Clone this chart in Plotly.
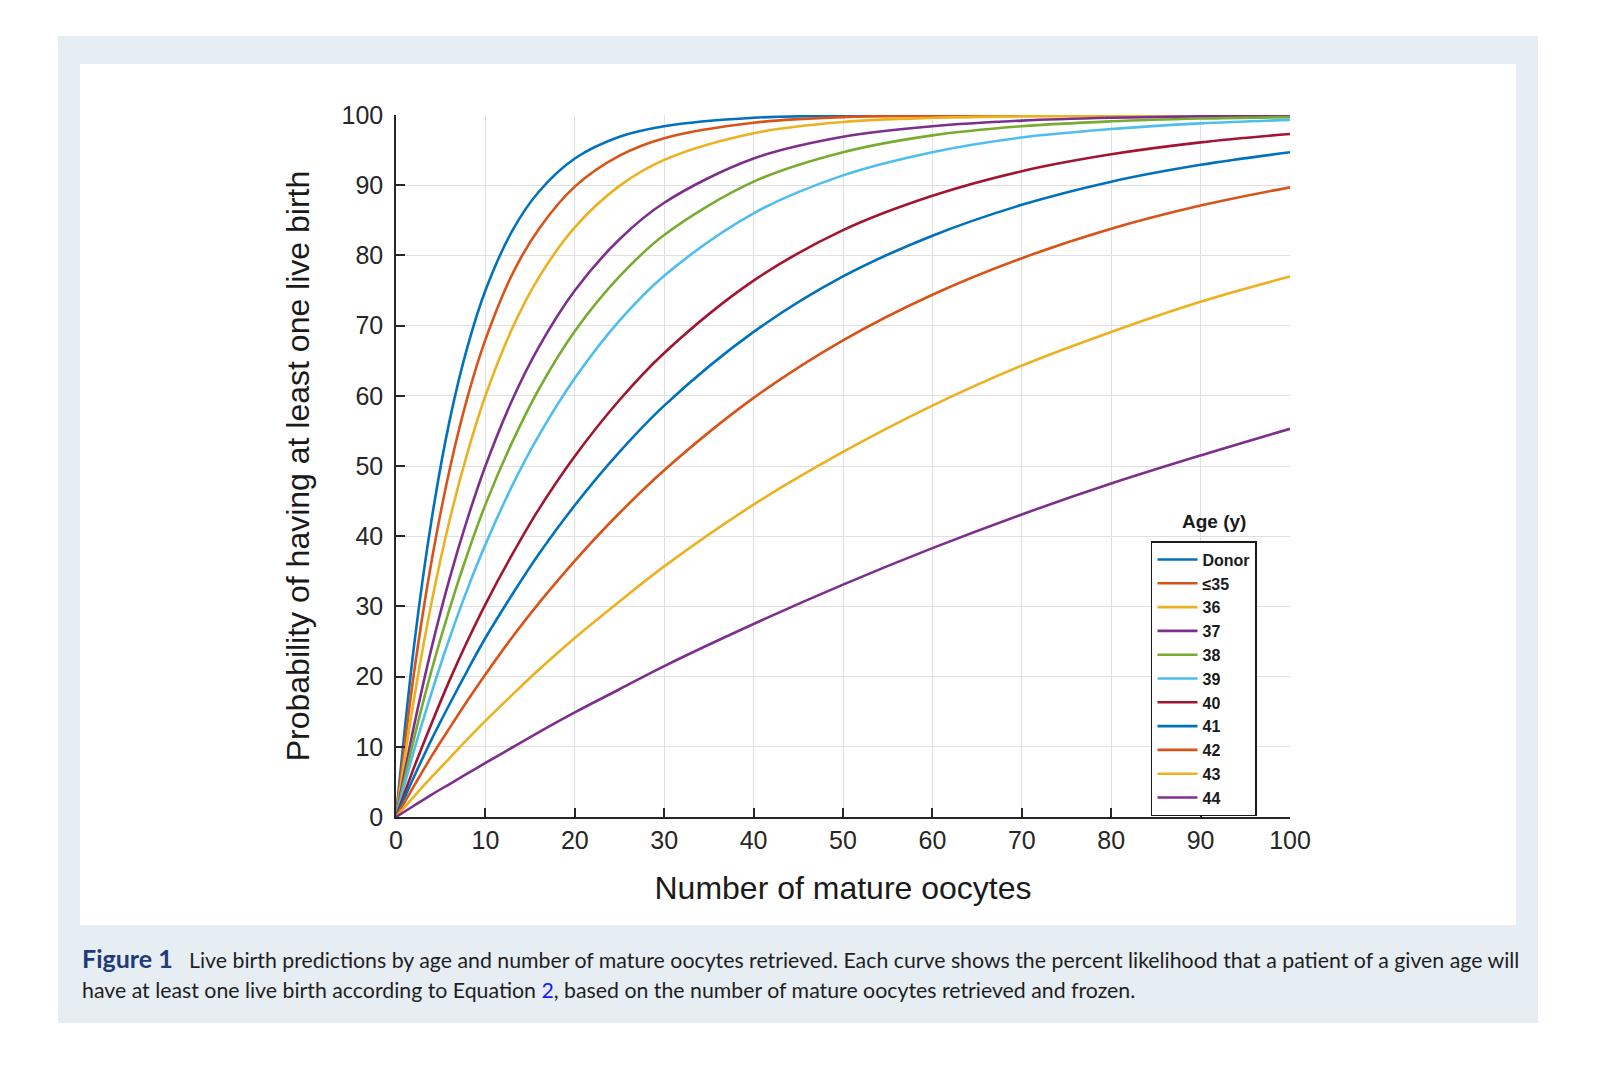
import plotly.graph_objects as go

oocytes = [0, 2, 4, 6, 8, 10, 13, 16, 20, 25, 30, 40, 50, 60, 70, 80, 90, 100]

# probability (%) of at least one live birth, one list per age group
donor = [0, 24.2, 42.5, 56.5, 67.0, 75.0, 83.5, 89.1, 93.8, 96.9, 98.4, 99.6, 99.9, 100.0, 100.0, 100.0, 100.0, 100.0]
age_35 = [0, 20.4, 36.6, 49.5, 59.8, 68.0, 77.3, 83.8, 89.8, 94.2, 96.7, 98.9, 99.7, 99.9, 100.0, 100.0, 100.0, 100.0]
age_36 = [0, 16.7, 30.7, 42.3, 51.9, 60.0, 69.6, 76.9, 84.0, 89.9, 93.6, 97.4, 99.0, 99.6, 99.8, 99.9, 100.0, 100.0]
age_37 = [0, 12.9, 24.2, 34.0, 42.5, 50.0, 59.4, 67.0, 75.0, 82.3, 87.5, 93.8, 96.9, 98.4, 99.2, 99.6, 99.8, 99.9]
age_38 = [0, 11.1, 21.0, 29.7, 37.5, 44.5, 53.4, 61.0, 69.2, 77.0, 82.9, 90.5, 94.7, 97.1, 98.4, 99.1, 99.5, 99.7]
age_39 = [0, 9.4, 17.8, 25.5, 32.5, 38.8, 47.2, 54.4, 62.5, 70.7, 77.1, 86.0, 91.4, 94.7, 96.8, 98.0, 98.8, 99.3]
age_40 = [0, 7.0, 13.4, 19.5, 25.1, 30.3, 37.4, 43.9, 51.4, 59.4, 66.1, 76.4, 83.6, 88.5, 92.0, 94.4, 96.1, 97.3]
age_41 = [0, 5.7, 11.1, 16.1, 20.9, 25.5, 31.7, 37.5, 44.4, 52.0, 58.6, 69.1, 77.0, 82.8, 87.2, 90.5, 92.9, 94.7]
age_42 = [0, 4.4, 8.7, 12.7, 16.6, 20.3, 25.6, 30.5, 36.5, 43.3, 49.4, 59.7, 67.9, 74.4, 79.6, 83.8, 87.1, 89.7]
age_43 = [0, 2.9, 5.7, 8.4, 11.1, 13.7, 17.4, 21.0, 25.5, 30.7, 35.7, 44.5, 52.0, 58.6, 64.3, 69.1, 73.4, 77.0]
age_44 = [0, 1.6, 3.2, 4.7, 6.2, 7.7, 9.9, 12.1, 14.9, 18.2, 21.5, 27.5, 33.1, 38.3, 43.1, 47.5, 51.5, 55.3]

labels = ["Donor", "\u226435", "36", "37", "38", "39", "40", "41", "42", "43", "44"]
series = [donor, age_35, age_36, age_37, age_38, age_39, age_40, age_41, age_42, age_43, age_44]

# matlab default line colours, cycling
matlab = ["#0072BD", "#D95319", "#EDB120", "#7E2F8E", "#77AC30", "#4DBEEE", "#A2142F"]

fig = go.Figure()
for i, (name, vals) in enumerate(zip(labels, series)):
    fig.add_trace(go.Scatter(
        x=oocytes, y=vals, name=name, mode="lines",
        line=dict(color=matlab[i % len(matlab)], width=2.6, shape="spline", smoothing=1.0),
    ))

# page panels (light frame + white card)
fig.add_shape(type="rect", xref="paper", yref="paper", layer="below",
              x0=-0.378, x1=1.2774, y0=-0.2934, y1=1.1125,
              fillcolor="#e6edf3", line=dict(width=0))
fig.add_shape(type="rect", xref="paper", yref="paper", layer="below",
              x0=-0.3535, x1=1.2528, y0=-0.1538, y1=1.0726,
              fillcolor="white", line=dict(width=0))

axis_font = dict(family="Liberation Sans, Arial, sans-serif", size=25, color="#262626")
fig.update_xaxes(
    range=[0, 100], dtick=10, showline=True, linecolor="#262626", linewidth=1.5,
    ticks="inside", ticklen=9, tickcolor="#262626", tickwidth=1.5,
    showgrid=True, gridcolor="#e0e0e0", gridwidth=1.2, zeroline=False,
    tickfont=axis_font,
    title=dict(text="Number of mature oocytes", standoff=24,
               font=dict(family="Liberation Sans, Arial, sans-serif", size=32, color="#1a1a1a")),
)
fig.update_yaxes(
    range=[0, 100], dtick=10, showline=True, linecolor="#262626", linewidth=1.5,
    ticks="inside", ticklen=9, tickcolor="#262626", tickwidth=1.5,
    showgrid=True, gridcolor="#e0e0e0", gridwidth=1.2, zeroline=False,
    tickfont=axis_font, ticklabelstandoff=6,
    title=dict(text="Probability of having at least one live birth", standoff=22,
               font=dict(family="Liberation Sans, Arial, sans-serif", size=32, color="#1a1a1a")),
)

fig.update_layout(
    width=1600, height=1082,
    margin=dict(l=388, r=318, t=107, b=273),
    paper_bgcolor="white", plot_bgcolor="white",
    legend=dict(
        x=0.8445, y=0.393, xanchor="left", yanchor="top",
        bgcolor="white", bordercolor="#1a1a1a", borderwidth=1.5,
        font=dict(family="Liberation Sans, Arial, sans-serif", size=16, color="#1a1a1a", weight="bold"),
        itemwidth=40, tracegroupgap=0,
    ),
)

# legend heading sits above the box
fig.add_annotation(x=0.915, y=0.403, xref="paper", yref="paper", xanchor="center", yanchor="bottom",
                   text="<b>Age (y)</b>", showarrow=False,
                   font=dict(family="Liberation Sans, Arial, sans-serif", size=19, color="#1a1a1a"))

# caption, two lines placed separately for the wider line spacing
line1 = ("<span style='color:#1f3a78;font-size:25px'><b>Figure 1</b></span>&nbsp;&nbsp;&nbsp;Live birth predictions by age "
         "and number of mature oocytes retrieved. Each curve shows the percent likelihood that a patient of a given age will")
line2 = ("have at least one live birth according to Equation <span style='color:#1a1aff'>2</span>, "
         "based on the number of mature oocytes retrieved and frozen.")
cap_font = dict(family="Lato, Open Sans, sans-serif", size=21.3, color="#1e1e1e")
fig.add_annotation(x=-0.3535, y=-0.2009, xref="paper", yref="paper", xanchor="left", yanchor="middle",
                   text=line1, showarrow=False, align="left", font=cap_font)
fig.add_annotation(x=-0.3535, y=-0.2464, xref="paper", yref="paper", xanchor="left", yanchor="middle",
                   text=line2, showarrow=False, align="left", font=cap_font)

fig.write_html("out.html")
